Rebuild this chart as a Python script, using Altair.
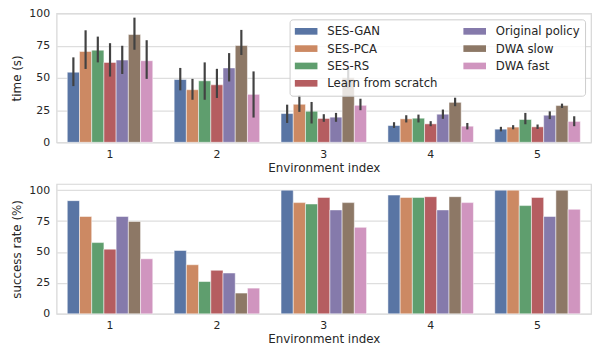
import altair as alt
import pandas as pd

envs = ["1", "2", "3", "4", "5"]
methods = ["SES-GAN", "SES-PCA", "SES-RS", "Learn from scratch",
           "Original policy", "DWA slow", "DWA fast"]
colors = ["#5975a4", "#cc8963", "#5f9e6e", "#b55d60", "#857aab", "#8d7866", "#d095bf"]

# time (s): mean, lower and upper error per method, env 1..5
time_mean = {
    "SES-GAN":            [54.4, 48.7, 22.3, 13.0, 10.2],
    "SES-PCA":            [70.5, 40.8, 29.5, 18.2, 11.8],
    "SES-RS":             [71.5, 47.7, 24.1, 18.7, 17.7],
    "Learn from scratch": [62.0, 44.6, 18.5, 14.3, 12.0],
    "Original policy":    [63.8, 57.7, 19.5, 21.8, 21.0],
    "DWA slow":           [83.6, 75.1, 50.0, 31.0, 28.5],
    "DWA fast":           [63.3, 37.2, 28.7, 12.5, 16.2],
}
time_lo = {
    "SES-GAN":            [43.6, 40.3, 15.0, 11.2, 8.5],
    "SES-PCA":            [56.9, 33.0, 23.6, 15.4, 10.1],
    "SES-RS":             [62.0, 33.0, 14.6, 15.4, 14.0],
    "Learn from scratch": [51.0, 34.4, 15.9, 12.5, 10.4],
    "Original policy":    [53.0, 47.2, 15.9, 18.2, 18.0],
    "DWA slow":           [71.8, 67.7, 42.0, 28.0, 26.6],
    "DWA fast":           [49.2, 19.2, 24.9, 10.0, 12.5],
}
time_hi = {
    "SES-GAN":            [65.9, 57.7, 29.2, 15.6, 12.0],
    "SES-PCA":            [86.9, 49.2, 36.4, 21.0, 13.3],
    "SES-RS":             [82.0, 62.0, 31.3, 21.5, 22.8],
    "Learn from scratch": [76.9, 57.0, 21.8, 16.4, 13.8],
    "Original policy":    [74.9, 69.2, 22.8, 25.4, 24.0],
    "DWA slow":           [96.7, 87.2, 58.0, 34.6, 30.0],
    "DWA fast":           [79.2, 55.0, 33.8, 15.0, 20.2],
}
success = {
    "SES-GAN":            [91.5, 51.2, 100.0, 96.0, 100.0],
    "SES-PCA":            [78.7, 39.7, 89.9, 94.1, 100.0],
    "SES-RS":             [57.6, 26.1, 88.8, 94.1, 87.5],
    "Learn from scratch": [52.3, 35.2, 94.1, 94.7, 94.1],
    "Original policy":    [78.7, 33.0, 84.0, 84.0, 78.7],
    "DWA slow":           [74.7, 16.8, 89.9, 94.7, 100.0],
    "DWA fast":           [44.5, 20.8, 69.9, 89.9, 84.5],
}
y_ticks = [0, 25, 50, 75, 100]

rows = []
for m in methods:
    for i, e in enumerate(envs):
        rows.append(dict(env=e, method=m, time=time_mean[m][i], lo=time_lo[m][i],
                         hi=time_hi[m][i], success=success[m][i]))
df = pd.DataFrame(rows)

FONT = "DejaVu Sans"
TXT = "#262626"
GRID = "#dedede"

def xenc():
    return alt.X("env:N", title="Environment index", sort=envs,
                 scale=alt.Scale(paddingInner=0.2, paddingOuter=0.1),
                 axis=alt.Axis(labelAngle=0, ticks=False, domain=False, grid=False,
                               labelPadding=6, titlePadding=3, labelFontSize=11,
                               titleFontSize=12))

def yaxis():
    return alt.Axis(values=y_ticks, ticks=False, domain=False, labelOverlap=False,
                    labelPadding=7, titlePadding=5, labelFontSize=11, titleFontSize=12)

xoff = alt.XOffset("method:N", sort=methods,
                   scale=alt.Scale(paddingInner=0, paddingOuter=0))

legend = alt.Legend(
    title=None, orient="top-right", columns=2, offset=6,
    symbolType="M-1,-0.5H2.4V0.5H-1Z", symbolSize=180, symbolStrokeWidth=0,
    labelOffset=19, columnPadding=25, rowPadding=3.5, padding=5,
    labelFontSize=11.8, labelFont=FONT, labelColor=TXT, labelLimit=300,
    fillColor="rgba(255,255,255,0.8)", strokeColor="#cccccc", cornerRadius=3,
)

bar_style = dict(stroke="#ffffff", strokeOpacity=0.5, strokeWidth=1)
top_scale = alt.Scale(domain=[0, 100], nice=False)

top_bars = alt.Chart(df).mark_bar(**bar_style).encode(
    x=xenc(), xOffset=xoff,
    y=alt.Y("time:Q", title="time (s)", scale=top_scale, axis=yaxis()),
    color=alt.Color("method:N", scale=alt.Scale(domain=methods, range=colors),
                    legend=legend),
)
top_err = alt.Chart(df).mark_rule(color="#424242", strokeWidth=2.2).encode(
    x=xenc(), xOffset=xoff,
    y=alt.Y("lo:Q", title="time (s)", scale=top_scale, axis=yaxis()),
    y2="hi:Q",
)
top = alt.layer(top_bars, top_err).properties(width=539, height=130)

bottom = alt.Chart(df).mark_bar(**bar_style).encode(
    x=xenc(), xOffset=xoff,
    y=alt.Y("success:Q", title="success rate (%)",
            scale=alt.Scale(domain=[0, 105], nice=False), axis=yaxis()),
    color=alt.Color("method:N", scale=alt.Scale(domain=methods, range=colors),
                    legend=None),
).properties(width=539, height=131)

chart = alt.vconcat(top, bottom, spacing=9).resolve_scale(
    color="independent", xOffset="independent"
).properties(
    padding={"left": 2, "top": -3, "right": 0, "bottom": 0}
).configure(
    font=FONT,
).configure_axis(
    labelFont=FONT, titleFont=FONT, labelColor=TXT, titleColor=TXT,
    titleFontWeight="normal", gridColor=GRID, gridWidth=1.2,
).configure_view(
    stroke="#d6d6d6", strokeWidth=1.2,
)

chart.save("out.html", embed_options={"renderer": "svg", "actions": False})
